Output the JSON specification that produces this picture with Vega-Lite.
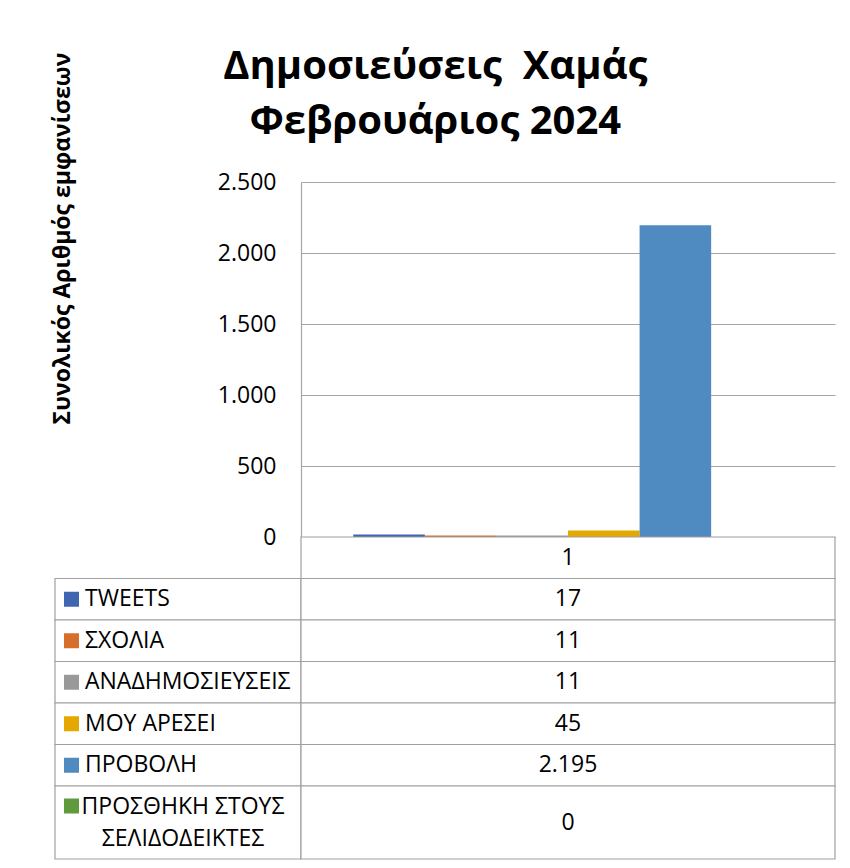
{
  "$schema": "https://vega.github.io/schema/vega-lite/v6.json",
  "padding": {"left": 50, "top": 47, "right": 20, "bottom": 9},
  "background": "white",
  "datasets": {
    "posts": [
      {"category": "1", "series": "TWEETS", "value": 17},
      {"category": "1", "series": "ΣΧΟΛΙΑ", "value": 11},
      {"category": "1", "series": "ΑΝΑΔΗΜΟΣΙΕΥΣΕΙΣ", "value": 11},
      {"category": "1", "series": "ΜΟΥ ΑΡΕΣΕΙ", "value": 45},
      {"category": "1", "series": "ΠΡΟΒΟΛΗ", "value": 2195},
      {"category": "1", "series": "ΠΡΟΣΘΗΚΗ ΣΤΟΥΣ\nΣΕΛΙΔΟΔΕΙΚΤΕΣ", "value": 0}
    ]
  },
  "title": {
    "text": ["Δημοσιεύσεις \u00a0Χαμάς", "Φεβρουάριος 2024"],
    "anchor": "middle",
    "font": "Open Sans",
    "fontSize": 40,
    "fontWeight": "bold",
    "lineHeight": 55,
    "offset": -90,
    "dx": -8,
    "color": "black"
  },
  "columns": 2,
  "spacing": 0,
  "bounds": "flush",
  "align": "each",
  "resolve": {"scale": {"x": "independent", "y": "independent", "color": "shared"}},
  "concat": [
    {
      "width": 246,
      "height": 355,
      "data": {"values": []},
      "mark": "text",
      "encoding": {}
    },
    {
      "width": 534,
      "height": 355,
      "data": {"name": "posts"},
      "mark": {"type": "bar"},
      "encoding": {
        "x": {
          "field": "series",
          "type": "nominal",
          "sort": null,
          "scale": {
            "domain": ["TWEETS", "ΣΧΟΛΙΑ", "ΑΝΑΔΗΜΟΣΙΕΥΣΕΙΣ", "ΜΟΥ ΑΡΕΣΕΙ", "ΠΡΟΒΟΛΗ", "ΠΡΟΣΘΗΚΗ ΣΤΟΥΣ\nΣΕΛΙΔΟΔΕΙΚΤΕΣ"],
            "paddingInner": 0,
            "paddingOuter": 0.73
          },
          "axis": null
        },
        "y": {
          "field": "value",
          "type": "quantitative",
          "scale": {"domain": [0, 2500]},
          "axis": {
            "values": [0, 500, 1000, 1500, 2000, 2500],
            "format": ",d",
            "title": "Συνολικός Αριθμός εμφανίσεων",
            "titleFont": "Open Sans",
            "titleFontSize": 23,
            "titleFontWeight": "bold",
            "titleColor": "black",
            "titleAngle": -90,
            "titleX": -239,
            "titleY": 56,
            "titleBaseline": "middle",
            "titleAlign": "center",
            "labelFont": "Open Sans",
            "labelFontSize": 23,
            "labelColor": "black",
            "labelPadding": 25,
            "ticks": false,
            "grid": true,
            "gridColor": "#A6A6A6",
            "gridWidth": 1.2,
            "domainColor": "#A6A6A6",
            "domainWidth": 1.2
          }
        },
        "color": {
          "field": "series",
          "type": "nominal",
          "scale": {
            "domain": ["TWEETS", "ΣΧΟΛΙΑ", "ΑΝΑΔΗΜΟΣΙΕΥΣΕΙΣ", "ΜΟΥ ΑΡΕΣΕΙ", "ΠΡΟΒΟΛΗ", "ΠΡΟΣΘΗΚΗ ΣΤΟΥΣ\nΣΕΛΙΔΟΔΕΙΚΤΕΣ"],
            "range": ["#3F66B0", "#D56F2B", "#999999", "#E4A800", "#4F8BC1", "#5F9B3C"]
          },
          "legend": null
        }
      }
    },
    {
      "width": 246,
      "height": 249,
      "data": {"name": "posts"},
      "transform": [{"filter": {"field": "series", "oneOf": ["TWEETS", "ΣΧΟΛΙΑ", "ΑΝΑΔΗΜΟΣΙΕΥΣΕΙΣ", "ΜΟΥ ΑΡΕΣΕΙ", "ΠΡΟΒΟΛΗ"]}}],
      "encoding": {
        "y": {
          "field": "series",
          "type": "nominal",
          "scale": {"domain": ["1", "TWEETS", "ΣΧΟΛΙΑ", "ΑΝΑΔΗΜΟΣΙΕΥΣΕΙΣ", "ΜΟΥ ΑΡΕΣΕΙ", "ΠΡΟΒΟΛΗ"], "paddingInner": 0, "paddingOuter": 0},
          "axis": null
        }
      },
      "layer": [
        {"mark": {"type": "rect", "fill": "white", "stroke": "#A0A0A0", "strokeWidth": 1.2}},
        {
          "mark": {"type": "square", "size": 225, "xOffset": -106.5, "filled": true, "opacity": 1},
          "encoding": {"color": {"field": "series", "type": "nominal"}}
        },
        {
          "mark": {"type": "text", "align": "left", "baseline": "middle", "dx": -93, "font": "Open Sans", "fontSize": 23, "color": "black"},
          "encoding": {"text": {"field": "series"}}
        }
      ]
    },
    {
      "width": 534,
      "height": 249,
      "data": {"name": "posts"},
      "layer": [
        {
          "transform": [{"filter": {"field": "series", "oneOf": ["TWEETS", "ΣΧΟΛΙΑ", "ΑΝΑΔΗΜΟΣΙΕΥΣΕΙΣ", "ΜΟΥ ΑΡΕΣΕΙ", "ΠΡΟΒΟΛΗ"]}}],
          "encoding": {
            "y": {
              "field": "series",
              "type": "nominal",
              "scale": {"domain": ["1", "TWEETS", "ΣΧΟΛΙΑ", "ΑΝΑΔΗΜΟΣΙΕΥΣΕΙΣ", "ΜΟΥ ΑΡΕΣΕΙ", "ΠΡΟΒΟΛΗ"], "paddingInner": 0, "paddingOuter": 0},
              "axis": null
            }
          },
          "layer": [
            {"mark": {"type": "rect", "fill": "white", "stroke": "#A0A0A0", "strokeWidth": 1.2}},
            {
              "mark": {"type": "text", "align": "center", "baseline": "middle", "font": "Open Sans", "fontSize": 23, "color": "black"},
              "encoding": {"text": {"field": "value", "type": "quantitative", "format": ",d"}}
            }
          ]
        },
        {
          "transform": [{"aggregate": [{"op": "count", "as": "n"}], "groupby": ["category"]}],
          "encoding": {
            "y": {"field": "category", "type": "nominal", "axis": null}
          },
          "layer": [
            {"mark": {"type": "rect", "fill": "white", "stroke": "#A0A0A0", "strokeWidth": 1.2}},
            {
              "mark": {"type": "text", "align": "center", "baseline": "middle", "font": "Open Sans", "fontSize": 23, "color": "black"},
              "encoding": {"text": {"field": "category"}}
            }
          ]
        }
      ]
    },
    {
      "width": 246,
      "height": 73,
      "data": {"name": "posts"},
      "transform": [{"filter": {"field": "series", "equal": "ΠΡΟΣΘΗΚΗ ΣΤΟΥΣ\nΣΕΛΙΔΟΔΕΙΚΤΕΣ"}}],
      "layer": [
        {"mark": {"type": "rect", "fill": "white", "stroke": "#A0A0A0", "strokeWidth": 1.2}, "encoding": {}},
        {
          "mark": {"type": "square", "size": 225, "xOffset": -106.5, "yOffset": -16.5, "filled": true, "opacity": 1},
          "encoding": {"color": {"field": "series", "type": "nominal"}}
        },
        {
          "mark": {"type": "text", "align": "center", "baseline": "middle", "dx": 5, "dy": -16, "lineBreak": "\n", "lineHeight": 32, "font": "Open Sans", "fontSize": 23, "color": "black"},
          "encoding": {"text": {"field": "series"}}
        }
      ]
    },
    {
      "width": 534,
      "height": 73,
      "data": {"name": "posts"},
      "transform": [{"filter": {"field": "series", "equal": "ΠΡΟΣΘΗΚΗ ΣΤΟΥΣ\nΣΕΛΙΔΟΔΕΙΚΤΕΣ"}}],
      "layer": [
        {"mark": {"type": "rect", "fill": "white", "stroke": "#A0A0A0", "strokeWidth": 1.2}, "encoding": {}},
        {
          "mark": {"type": "text", "align": "center", "baseline": "middle", "font": "Open Sans", "fontSize": 23, "color": "black"},
          "encoding": {"text": {"field": "value", "type": "quantitative", "format": ",d"}}
        }
      ]
    }
  ],
  "config": {
    "font": "Open Sans",
    "view": {"stroke": null},
    "locale": {
      "number": {"decimal": ",", "thousands": ".", "grouping": [3], "currency": ["", " €"]}
    }
  }
}
